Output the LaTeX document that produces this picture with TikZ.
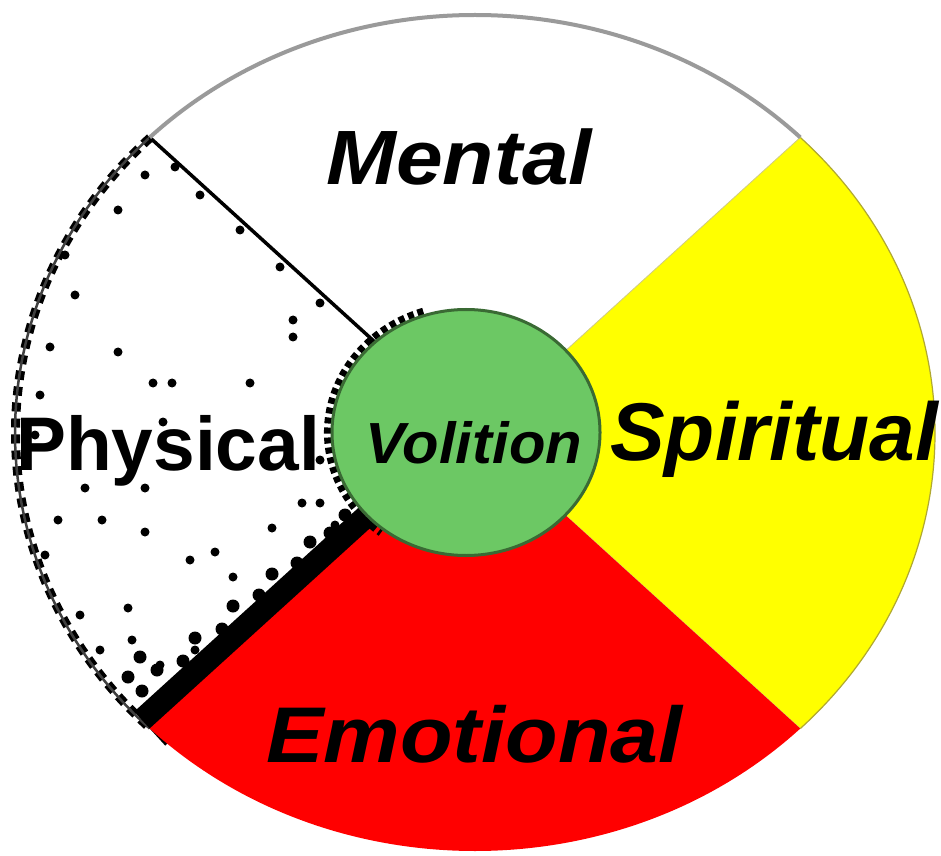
\documentclass[tikz,border=0pt]{standalone}
\usepackage{fontspec}
\setmainfont{Liberation Sans}
\usetikzlibrary{calc}
\definecolor{wyellow}{HTML}{FFFF00}
\definecolor{wred}{HTML}{FF0000}
\definecolor{wgreen}{HTML}{6CC864}
\definecolor{wgreenedge}{HTML}{3A6A34}
\definecolor{wolive}{HTML}{B0A830}
\definecolor{wgrey}{HTML}{9A9A9A}
\tikzset{
  lbl/.style={inner sep=0pt, anchor=base west, font=\bfseries\itshape},
  speck/.style={fill=black, draw=none},
}
\begin{document}
\begin{tikzpicture}[x=1pt,y=1pt]
\useasboundingbox (0,0) rectangle (941,855);
\fill[white] (0,0) rectangle (941,855);
\coordinate (C) at (475,422);
\coordinate (G) at (466,422.5);
\coordinate (rimNE) at ($(C)+(45:460 and 418)$);
\coordinate (rimNW) at ($(C)+(135:460 and 418)$);
\coordinate (rimSW) at ($(C)+(225:460 and 418)$);
\coordinate (rimSE) at ($(C)+(-45:460 and 418)$);
\begin{scope}
\clip (C) ellipse[x radius=464, y radius=422];
% physical rim stipple
\draw[black, line width=10pt, dash pattern=on 9pt off 7pt] (rimNW) arc[start angle=135, end angle=225, x radius=460, y radius=418];
\draw[black!75, line width=2.5pt] (rimNW) arc[start angle=135, end angle=225, x radius=460, y radius=418];
% heavy band physical/emotional
\draw[black, line width=46pt] (rimSW) -- (C);
% mental/physical line
\draw[black, line width=3.5pt] (rimNW) -- (C);
% specks
\foreach \px/\py in {145/680,118/645,293/535,293/518,118/503,50/508,153/472,172/472,250/472,163/433,85/367,145/367,58/335,102/335,145/323,302/352,320/352,272/327,190/295,215/303,233/278,128/247,132/215,200/660,240/625,280/588,320/552,175/688,65/600,75/560,40/460,35/420,45/300,80/240,100/205,160/190,175/170,195/205,320/395,335/330}
  \fill[speck] (\px,\py) circle (4.5pt);
\foreach \px/\py in {142/164,157/185,183/194,195/217,222/226,233/249,259/260,272/281,297/292,310/313,330/322,128/178,140/198,175/150,345/340}
  \fill[speck] (\px,\py) circle (6.5pt);
\end{scope}
% spiritual
\fill[wyellow] (C) -- (rimSE) arc[start angle=-45, end angle=45, x radius=460, y radius=418] -- cycle;
\draw[wolive, line width=1.2pt] (rimSE) arc[start angle=-45, end angle=45, x radius=460, y radius=418];
\draw[wolive!60, line width=0.8pt] (rimNE) -- (C) -- (rimSE);
% emotional
\fill[wred] (C) -- (rimSW) arc[start angle=225, end angle=315, x radius=460, y radius=418] -- cycle;
% mental rim
\draw[wgrey, line width=4pt] (rimNE) arc[start angle=45, end angle=135, x radius=460, y radius=418];
% volition circle
\draw[black, line width=8pt, dash pattern=on 6pt off 4pt] ($(G)+(108:138 and 127)$) arc[start angle=108, end angle=232, x radius=138, y radius=127];
\filldraw[fill=wgreen, draw=wgreenedge, line width=3pt] (G) ellipse[x radius=134, y radius=123];
% labels
\node[lbl, font=\fontsize{77}{80}\selectfont\bfseries\itshape, xscale=1.09] (mental) at (326,670) {Mental};
\node[lbl, font=\fontsize{82}{85}\selectfont\bfseries\itshape] (spiritual) at (610,395) {Spiritual};
\node[lbl, font=\fontsize{79}{82}\selectfont\bfseries\itshape, xscale=1.09] (emotional) at (266,93) {Emotional};
\node[lbl, font=\fontsize{76}{80}\selectfont\bfseries, xscale=0.985] (physical) at (16,385) {Physical};
\node[lbl, font=\fontsize{58}{60}\selectfont\bfseries\itshape, xscale=1.03] (volition) at (365,392) {Volition};
\end{tikzpicture}
\end{document}
